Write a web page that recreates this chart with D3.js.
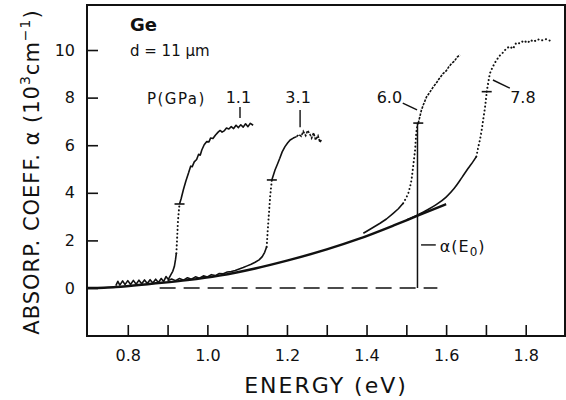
<!DOCTYPE html>
<html>
<head>
<meta charset="utf-8">
<script src="https://cdn.jsdelivr.net/npm/d3@7"></script>
<style>
body{margin:0;background:#fff}
text{font-family:"DejaVu Sans",sans-serif;fill:#111}
</style>
</head>
<body>
<svg id="chart" width="566" height="400"></svg>
<script>
// axis ticks
var xTicks = [0.8,0.9,1.0,1.1,1.2,1.3,1.4,1.5,1.6,1.7,1.8];
var xTickLabels = ["0.8","","1.0","","1.2","","1.4","","1.6","","1.8"];
var yTicks = [0,2,4,6,8,10];
var yTickLabels = ["0","2","4","6","8","10"];

// pressures (GPa) of the four spectra
var pressures = ["1.1","3.1","6.0","7.8"];

// fitted background curve  [E (eV), alpha (10^3 cm^-1)]
var fitCurve = [[0.70,0],[0.74,0.01],[0.77,0.04],[0.86,0.18],[0.95,0.33],[1.03,0.52],[1.12,0.82],[1.20,1.15],[1.30,1.62],[1.38,2.06],[1.47,2.64],[1.53,3.05],[1.60,3.52]];

// P = 1.1 GPa
var p11Low = [[0.770,0.10],[0.775,0.28],[0.780,0.12],[0.787,0.30],[0.793,0.14],[0.800,0.31],[0.807,0.15],[0.814,0.32],[0.821,0.16],[0.828,0.33],[0.835,0.18],[0.842,0.34],[0.849,0.19],[0.856,0.35],[0.863,0.21],[0.870,0.37],[0.877,0.23],[0.884,0.40],[0.890,0.27],[0.896,0.48],[0.902,0.36],[0.908,0.55],[0.913,0.70],[0.917,0.90],[0.920,1.20],[0.922,1.46]];
var p11Rise = [[0.922,1.46],[0.924,2.1],[0.926,2.8],[0.928,3.2],[0.930,3.53]];
var p11Top = [[0.930,3.53],[0.934,3.75],[0.940,4.15],[0.946,4.5],[0.953,4.85],[0.958,5.12],[0.962,5.10],[0.967,5.30],[0.973,5.40],[0.978,5.62],[0.982,5.58],[0.986,5.80],[0.992,6.02],[0.998,6.15],[1.004,6.14],[1.008,6.30],[1.014,6.28],[1.020,6.42],[1.027,6.55],[1.032,6.62],[1.037,6.55],[1.042,6.60],[1.048,6.72],[1.054,6.68],[1.060,6.78],[1.066,6.70],[1.072,6.84],[1.078,6.74],[1.084,6.86],[1.090,6.76],[1.096,6.90],[1.102,6.78],[1.108,6.92],[1.115,6.84]];

// P = 3.1 GPa
var p31Low = [[0.900,0.30],[0.910,0.38],[0.920,0.31],[0.930,0.40],[0.940,0.33],[0.950,0.43],[0.960,0.37],[0.970,0.47],[0.980,0.41],[0.990,0.51],[1.000,0.46],[1.010,0.56],[1.020,0.52],[1.030,0.61],[1.040,0.60],[1.050,0.67],[1.060,0.69],[1.070,0.74],[1.080,0.80],[1.090,0.86],[1.100,0.93],[1.110,1.00],[1.120,1.08],[1.130,1.18],[1.138,1.32],[1.144,1.50],[1.149,1.73]];
var p31Rise = [[1.149,1.73],[1.152,2.5],[1.155,3.2],[1.158,3.9],[1.162,4.54]];
var p31Top = [[1.162,4.54],[1.166,4.75],[1.170,4.96],[1.176,5.2],[1.182,5.45],[1.188,5.72],[1.195,5.94],[1.202,6.10],[1.208,6.22],[1.216,6.30],[1.224,6.36]];
var p31Tail = [[1.224,6.36],[1.230,6.45],[1.236,6.38],[1.241,6.58],[1.247,6.40],[1.252,6.62],[1.258,6.45],[1.262,6.30],[1.267,6.52],[1.272,6.22],[1.278,6.40],[1.283,6.12],[1.287,6.25]];

// P = 6.0 GPa
var p60Low = [[1.392,2.30],[1.410,2.48],[1.434,2.72],[1.450,2.90],[1.467,3.14],[1.480,3.33],[1.492,3.56]];
var p60Rise = [[1.492,3.56],[1.500,3.80],[1.505,3.98],[1.510,4.30],[1.513,4.54],[1.516,4.95],[1.519,5.38],[1.522,5.80],[1.524,6.30],[1.526,6.70],[1.530,6.93]];
var p60Top = [[1.530,6.93],[1.534,7.2],[1.538,7.48],[1.544,7.75],[1.551,8.04],[1.558,8.2],[1.568,8.46],[1.575,8.6],[1.582,8.78],[1.593,9.02],[1.600,9.12],[1.607,9.30],[1.614,9.44],[1.620,9.52],[1.628,9.70],[1.635,9.80]];

// P = 7.8 GPa
var p78Low = [[1.50,2.86],[1.525,3.04],[1.55,3.26],[1.575,3.50],[1.60,3.82],[1.62,4.18],[1.64,4.65],[1.655,5.02],[1.668,5.32],[1.676,5.52]];
var p78Rise = [[1.676,5.52],[1.681,5.94],[1.685,6.22],[1.689,6.6],[1.693,7.06],[1.697,7.5],[1.700,7.9],[1.702,8.25]];
var p78Top = [[1.702,8.25],[1.706,8.65],[1.710,9.02],[1.716,9.25],[1.722,9.45],[1.727,9.58],[1.734,9.75],[1.742,9.88],[1.752,10.07],[1.760,10.15],[1.768,10.05],[1.776,10.30],[1.786,10.28],[1.795,10.40],[1.805,10.30],[1.812,10.42],[1.820,10.35],[1.830,10.45],[1.840,10.40],[1.850,10.46],[1.860,10.40],[1.869,10.44]];

// bars marking alpha(E0) on each spectrum
var markPts = [[0.930,3.53],[1.162,4.54],[1.530,6.93],[1.702,8.25]];

// E0 construction for the 6.0 GPa spectrum
var e0 = 1.528;
var e0Alpha = 6.93;
var zeroLine = [0.88,1.578];

var svg = d3.select('#chart');
var x = d3.scaleLinear().domain([0.7,1.9]).range([88,565.5]);
var y = d3.scaleLinear().domain([-2,11.9]).range([335.6,4.8]);

var line = d3.line().x(function(d){return x(d[0])}).y(function(d){return y(d[1])});
var smoothLine = d3.line().x(function(d){return x(d[0])}).y(function(d){return y(d[1])}).curve(d3.curveMonotoneX);

// frame
svg.append('rect')
  .attr('x',87).attr('y',5)
  .attr('width',478).attr('height',331)
  .attr('fill','none').attr('stroke','#111').attr('stroke-width',2);

var gx = svg.append('g').attr('transform','translate(0,336)')
  .call(d3.axisBottom(x).tickValues(xTicks).tickSize(-11).tickPadding(14)
    .tickFormat(function(d,i){return xTickLabels[i]}));
var gy = svg.append('g').attr('transform','translate(87,0)')
  .call(d3.axisLeft(y).tickValues(yTicks).tickSize(-11).tickPadding(12)
    .tickFormat(function(d,i){return yTickLabels[i]}));
[gx,gy].forEach(function(g){
  g.select('.domain').remove();
  g.selectAll('.tick line').attr('stroke','#111').attr('stroke-width',1.6);
  g.selectAll('.tick text').attr('font-family','DejaVu Sans').attr('font-size',16).attr('fill','#111');
});

// dashed zero line and E0 vertical
svg.append('line')
  .attr('x1',x(zeroLine[0])).attr('x2',x(zeroLine[1]))
  .attr('y1',y(0)).attr('y2',y(0))
  .attr('stroke','#111').attr('stroke-width',1.5).attr('stroke-dasharray','16,8');
svg.append('line')
  .attr('x1',x(e0)).attr('x2',x(e0))
  .attr('y1',y(0)).attr('y2',y(e0Alpha))
  .attr('stroke','#111').attr('stroke-width',1.5);

// fitted curve
svg.append('path').datum(fitCurve)
  .attr('d',smoothLine)
  .attr('fill','none').attr('stroke','#111').attr('stroke-width',2.4);

var solid = [p11Low,p11Top,p31Low,p31Top,p60Low];
var dotted = [p11Rise,p31Rise,p60Rise,p78Rise,p78Top];
var dense = [p60Top,p31Tail];

svg.selectAll('path.solid').data(solid).enter().append('path')
  .attr('class','solid').attr('d',line)
  .attr('fill','none').attr('stroke','#111').attr('stroke-width',1.6)
  .attr('stroke-linejoin','round');
svg.append('path').datum(p78Low)
  .attr('d',smoothLine)
  .attr('fill','none').attr('stroke','#111').attr('stroke-width',1.6);
svg.selectAll('path.dotted').data(dotted).enter().append('path')
  .attr('class','dotted').attr('d',line)
  .attr('fill','none').attr('stroke','#111').attr('stroke-width',2)
  .attr('stroke-linecap','round').attr('stroke-dasharray','0.1,3.8');
svg.selectAll('path.dense').data(dense).enter().append('path')
  .attr('class','dense').attr('d',line)
  .attr('fill','none').attr('stroke','#111').attr('stroke-width',1.6)
  .attr('stroke-dasharray','2.5,1.2');

// alpha(E0) bars
svg.selectAll('line.mark').data(markPts).enter().append('line')
  .attr('class','mark')
  .attr('x1',function(d){return x(d[0])-5}).attr('x2',function(d){return x(d[0])+5})
  .attr('y1',function(d){return y(d[1])}).attr('y2',function(d){return y(d[1])})
  .attr('stroke','#111').attr('stroke-width',1.6);

// labels
svg.append('text').attr('x',x(0.8055)).attr('y',y(10.8))
  .attr('font-size',18).attr('font-weight','bold').text('Ge');
svg.append('text').attr('x',x(0.8055)).attr('y',y(9.75))
  .attr('font-size',15).text('d = 11 µm');
svg.append('text').attr('x',x(0.848)).attr('y',y(7.73))
  .attr('font-size',15).attr('letter-spacing',1.5).text('P(GPa)');

var labelE = [1.078,1.228,1.4575,1.793];
svg.selectAll('text.p').data(pressures).enter().append('text')
  .attr('class','p')
  .attr('x',function(d,i){return x(labelE[i])}).attr('y',y(7.77))
  .attr('text-anchor','middle').attr('font-size',16).text(function(d){return d});

var leaders = [[[1.082,7.61],[1.082,7.14]],[[1.233,7.48],[1.233,6.76]],[[1.491,7.77],[1.527,7.48]],[[1.7176,8.74],[1.760,8.40]],[[1.537,1.81],[1.574,1.81]]];
svg.selectAll('path.leader').data(leaders).enter().append('path')
  .attr('class','leader').attr('d',line)
  .attr('fill','none').attr('stroke','#111').attr('stroke-width',1.4);

var ae = svg.append('text').attr('x',x(1.584)).attr('y',y(1.51))
  .attr('font-size',16).attr('letter-spacing',1);
ae.append('tspan').text('α(E');
ae.append('tspan').attr('font-size',12).attr('dy',4).text('0');
ae.append('tspan').attr('dy',-4).text(')');

// axis titles
svg.append('text').attr('x',326).attr('y',393)
  .attr('text-anchor','middle').attr('font-size',22).attr('letter-spacing',2)
  .text('ENERGY  (eV)');

var yt = svg.append('text')
  .attr('transform','translate(39,172) rotate(-90)')
  .attr('text-anchor','middle').attr('font-size',21).attr('letter-spacing',1);
yt.append('tspan').text('ABSORP. COEFF. α  (10');
yt.append('tspan').attr('font-size',14).attr('dy',-9).text('3');
yt.append('tspan').attr('dy',9).text('cm');
yt.append('tspan').attr('font-size',14).attr('dy',-9).text('−1');
yt.append('tspan').attr('dy',9).text(')');
</script>
</body>
</html>
